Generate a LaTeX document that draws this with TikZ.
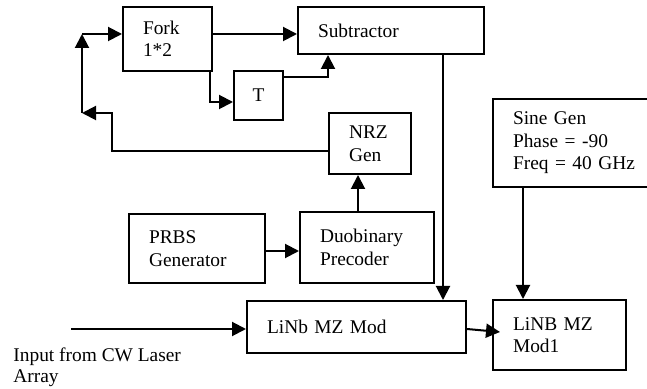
\documentclass[tikz,border=0pt]{standalone}
\usepackage{fontspec}
\setmainfont{Liberation Serif}
\usetikzlibrary{arrows.meta}

\begin{document}
\begin{tikzpicture}[
  x=0.5pt,y=-0.5pt,
  box/.style={draw=black, line width=1pt, align=left, inner xsep=10pt,
              inner ysep=0pt, font=\fontsize{9.7}{11.25}\selectfont},
  delay/.style={box, align=center, inner xsep=0pt},
  flow/.style={-{Triangle[length=7pt,width=7pt]}, line width=1pt, draw=black},
  label/.style={font=\fontsize{9.7}{10.5}\selectfont, align=left, inner sep=0pt}
]
  \useasboundingbox (0,0) rectangle (647,389);

  \node[box,text width=24.5pt,minimum height=32pt] (fork) at (167.5,39)
    {Fork\\1*2};
  \node[box,text width=73pt,minimum height=23.5pt] (sub) at (391,30.5)
    {Subtractor};
  \node[delay,minimum width=24.5pt,minimum height=24.5pt] (tbox) at (258.5,95.5)
    {T};
  \node[box,text width=21pt,minimum height=30.5pt] (nrz) at (370,143.5)
    {NRZ\\Gen};
  \node[box,text width=62pt,minimum height=44pt] (sine) at (575,143)
    {Sine Gen\\Phase = -90\\Freq = 40 GHz};

  \node[box,text width=48pt,minimum height=34.5pt] (prbs) at (197,248.5)
    {PRBS\\Generator};
  \node[box,text width=47pt,minimum height=35.5pt] (duo) at (367,247.5)
    {Duobinary\\Precoder};
  \node[box,text width=89.5pt,minimum height=26pt] (mod) at (356.5,327)
    {LiNb MZ Mod};
  \node[box,text width=46.5pt,minimum height=35pt] (modone) at (559.5,335)
    {LiNB MZ\\Mod1};

  \node[label,anchor=west] (cwtext) at (13,367.5)
    {Input from CW Laser\\Array};

  \coordinate (loopt) at (82,34);
  \coordinate (loopb) at (82,113);
  \coordinate (nrzl) at (112,151);
  \coordinate (tbend) at (210,102);
  \coordinate (tsub) at (328,77);
  \coordinate (nrzx) at (358,200);
  \coordinate (subx) at (443,200);
  \coordinate (sinex) at (523,200);
  \coordinate (pry) at (280,251);
  \coordinate (cw) at (71,329);

  \draw[flow] (fork.east |- loopt) -- (sub.west |- loopt);
  \draw[flow] (fork.south -| tbend) |- (tbox.west |- tbend);
  \draw[flow] (tbox.east |- tsub) -| (sub.south -| tsub);

  \draw[flow] (nrz.west |- nrzl) -- (nrzl) |- (loopb);
  \draw[flow] (loopb) -- (loopt);
  \draw[flow] (loopt) -- (fork.west |- loopt);

  \draw[flow] (prbs.east |- pry) -- (duo.west |- pry);
  \draw[flow] (duo.north -| nrzx) -- (nrz.south -| nrzx);
  \draw[flow] (sub.south -| subx) -- (mod.north -| subx);
  \draw[flow] (sine.south -| sinex) -- (modone.north -| sinex);

  \draw[flow] (cw) -- (mod.west |- cw);
  \draw[flow] ([yshift=-1pt]mod.east) -- ([xshift=4pt,yshift=1.5pt]modone.west);
\end{tikzpicture}
\end{document}
